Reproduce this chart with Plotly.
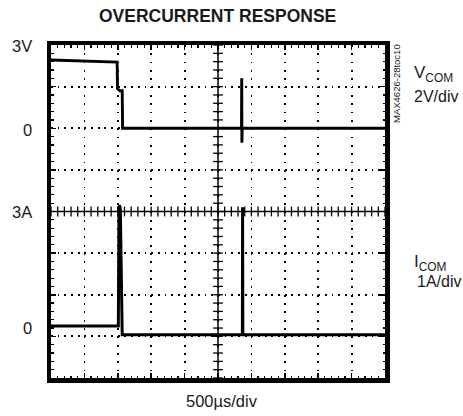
import numpy as np
import plotly.graph_objects as go

# ---- data (time in microseconds, 500 us/div) ----
t_vcom = [0, 990, 996, 1030, 1066, 1072, 2852, 2855, 2858, 2862, 5000]
vcom = [3.28, 3.18, 1.9, 1.8, 1.8, 0.0, 0.0, 2.4, -0.7, 0.0, 0.0]

t_icom = [0, 1008, 1018, 1028, 1038, 1060, 1066, 2865, 2868, 2872, 5000]
icom = [0.25, 0.25, 3.1, 3.15, 3.05, 0.04, 0.04, 0.04, 3.1, 0.04, 0.04]

v_tick_labels = ["3V", "0"]
i_tick_labels = ["3A", "0"]

# ---- layout geometry ----
W, H = 463, 416
L, R, T, B = 51, 78, 45, 38
pw, ph = W - L - R, H - T - B
XDIV, YDIV, SUB = 10, 8, 5
x_sub = pw / (XDIV * SUB)
y_sub = ph / (YDIV * SUB)
dot = 1.8


def px(xp):
    return (xp - L) / pw


def py(yp):
    return (H - B - yp) / ph


FONT = "Liberation Sans, Arial, sans-serif"

fig = go.Figure()

# crosshair tick marks along center lines
xt = np.arange(0, 5001, 100)
yt = np.arange(-12, 4.001, 0.4)
fig.add_trace(go.Scatter(x=xt, y=np.full(len(xt), -4.0), mode="markers",
                         marker=dict(symbol="line-ns", size=7, line=dict(color="black", width=1.3)),
                         hoverinfo="skip", showlegend=False))
fig.add_trace(go.Scatter(x=np.full(len(yt), 2500.0), y=yt, mode="markers",
                         marker=dict(symbol="line-ew", size=7, line=dict(color="black", width=1.3)),
                         hoverinfo="skip", showlegend=False))

fig.add_trace(go.Scatter(x=t_vcom, y=vcom, mode="lines", yaxis="y",
                         line=dict(color="black", width=2.9), showlegend=False))
fig.add_trace(go.Scatter(x=t_icom, y=icom, mode="lines", yaxis="y2",
                         line=dict(color="black", width=3.0), showlegend=False))

fig.add_shape(type="line", xref="x", yref="paper", x0=2500, x1=2500, y0=0, y1=1,
              line=dict(color="black", width=1.5))
fig.add_shape(type="line", xref="paper", yref="y", x0=0, x1=1, y0=-4, y1=-4,
              line=dict(color="black", width=1.5))

axis_common = dict(showline=True, linewidth=4.5, linecolor="black", mirror="ticks",
                   ticks="inside", ticklen=5, tickwidth=1.5, tickcolor="black",
                   showticklabels=False, zeroline=False, showgrid=True,
                   gridcolor="black", gridwidth=dot)

fig.update_layout(
    width=W, height=H, autosize=False,
    margin=dict(l=L, r=R, t=T, b=B),
    paper_bgcolor="white", plot_bgcolor="white",
    xaxis=dict(range=[0, 5000], dtick=500, tick0=0,
               griddash=f"{dot}px,{y_sub - dot:.3f}px",
               minor=dict(dtick=100, ticks="inside", ticklen=2.5, tickwidth=1.2,
                          tickcolor="black", showgrid=False),
               **axis_common),
    yaxis=dict(range=[-12, 4], dtick=2, tick0=-12,
               griddash=f"{dot}px,{x_sub - dot:.3f}px",
               minor=dict(dtick=0.4, ticks="inside", ticklen=2.5, tickwidth=1.2,
                          tickcolor="black", showgrid=False),
               **axis_common),
    yaxis2=dict(range=[-1, 7], overlaying="y", showgrid=False, showticklabels=False,
                zeroline=False, showline=False, ticks=""),
    font=dict(family=FONT, color="#1a1a1a"),
    hovermode=False,
)

ann = []
ann.append(dict(text="<b>OVERCURRENT RESPONSE</b>", x=px(217), y=py(16),
                font=dict(size=17.5)))
ann.append(dict(text=v_tick_labels[0], x=px(34), y=py(46), xanchor="right", font=dict(size=16.5)))
ann.append(dict(text=v_tick_labels[1], x=px(34), y=py(130), xanchor="right", font=dict(size=16.5)))
ann.append(dict(text=i_tick_labels[0], x=px(34), y=py(212), xanchor="right", font=dict(size=16.5)))
ann.append(dict(text=i_tick_labels[1], x=px(34), y=py(328), xanchor="right", font=dict(size=16.5)))
ann.append(dict(text="V<sub>COM</sub>", x=px(412), y=py(74), xanchor="left", font=dict(size=17)))
ann.append(dict(text="2V/div", x=px(412), y=py(96), xanchor="left", font=dict(size=16)))
ann.append(dict(text="I<sub>COM</sub>", x=px(412), y=py(263), xanchor="left", font=dict(size=17)))
ann.append(dict(text="1A/div", x=px(415), y=py(281), xanchor="left", font=dict(size=16)))
ann.append(dict(text="500µs/div", x=px(222), y=py(401), font=dict(size=16.5)))
ann.append(dict(text="MAX4626-28toc10", x=px(396), y=py(84), textangle=-90,
                font=dict(size=9.5)))
for a in ann:
    a.update(xref="paper", yref="paper", showarrow=False)
    a.setdefault("xanchor", "center")
    a.setdefault("yanchor", "middle")
fig.update_layout(annotations=ann)

fig.write_html("out.html",
               config={"displayModeBar": False, "staticPlot": True},
               post_script="document.body.style.margin='0';document.body.style.overflow='hidden';")
